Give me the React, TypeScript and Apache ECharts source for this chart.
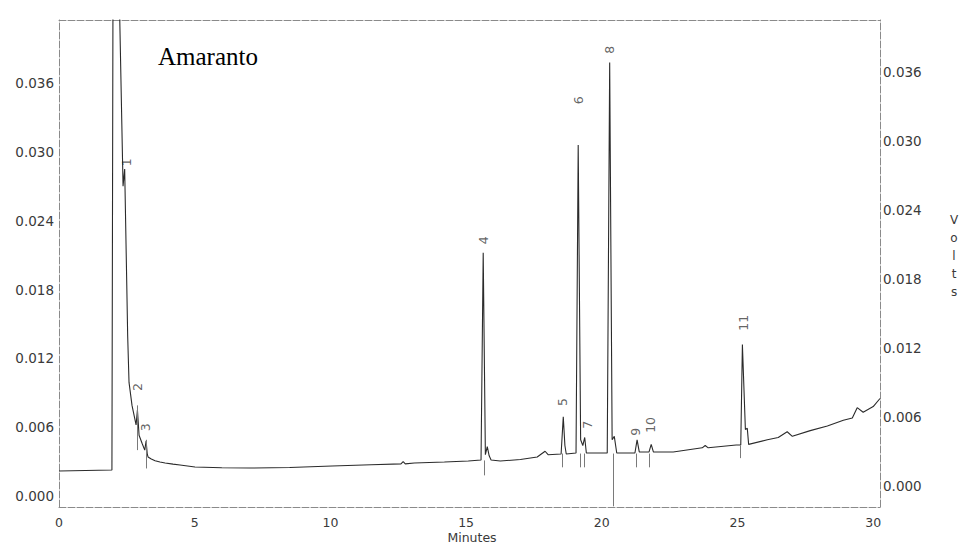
import React, { useEffect, useRef } from "react";
import * as echarts from "echarts";

// Chromatogram trace (minutes, volts)
const traceMinutes = [
  0, 1.95, 1.99, 2.21, 2.36, 2.42, 2.5, 2.53, 2.58, 2.69, 2.84, 2.89, 2.95, 3.06, 3.16, 3.21, 3.25,
  3.28, 3.4, 3.54, 3.72, 3.91, 4.2, 4.46, 5.01, 6.0, 7.04, 8.5, 10.06, 11.5, 12.6, 12.68, 12.76,
  13.09, 14.2, 15.08, 15.55, 15.63, 15.71, 15.78, 15.85, 15.92, 16.26, 17.0, 17.62, 17.91, 18.02,
  18.5, 18.58, 18.64, 18.69, 19.05, 19.13, 19.22, 19.3, 19.37, 19.43, 20.2, 20.29, 20.38, 20.46,
  20.55, 21.22, 21.3, 21.38, 21.74, 21.82, 21.9, 22.63, 23.7, 23.81, 23.92, 24.95, 25.12, 25.18,
  25.29, 25.36, 25.41, 26.1, 26.5, 26.83, 27.02, 27.68, 28.31, 28.9, 29.23, 29.41, 29.63, 30.0,
  30.25,
];
const traceVolts = [
  0.00218, 0.00227, 0.045, 0.045, 0.027, 0.0285, 0.018, 0.014, 0.0099, 0.0079, 0.0062, 0.0075,
  0.0053, 0.0046, 0.004, 0.0048, 0.0037, 0.0034, 0.00322, 0.00308, 0.00296, 0.00288, 0.00278,
  0.0027, 0.00253, 0.00246, 0.00244, 0.00248, 0.00262, 0.00272, 0.0028, 0.003, 0.0028, 0.00288,
  0.00296, 0.00305, 0.00314, 0.0212, 0.0036, 0.0043, 0.0035, 0.00314, 0.00305, 0.00318, 0.0034,
  0.0039, 0.0036, 0.00366, 0.0069, 0.0044, 0.00366, 0.00375, 0.0306, 0.0049, 0.0044, 0.0051,
  0.00375, 0.00375, 0.0378, 0.0049, 0.0052, 0.00375, 0.00375, 0.0049, 0.00384, 0.00384, 0.0045,
  0.00384, 0.00384, 0.0042, 0.0044, 0.0042, 0.00445, 0.00445, 0.0132, 0.0058, 0.0059, 0.0045,
  0.0049, 0.0051, 0.0056, 0.0052, 0.0057, 0.0061, 0.0066, 0.0068, 0.0077, 0.0073, 0.0078, 0.0085,
];

// Axis tick labels
const minuteTicks = [0, 5, 10, 15, 20, 25, 30];
const voltTicks = [0, 0.006, 0.012, 0.018, 0.024, 0.03, 0.036];

// Peak labels
const peakNames = ["1", "2", "3", "4", "5", "6", "7", "8", "9", "10", "11"];
const peakLabelMinutes = [2.47, 2.88, 3.17, 15.63, 18.54, 19.13, 19.46, 20.27, 21.23, 21.78, 25.21];
const peakLabelVolts = [0.0291, 0.0095, 0.006, 0.0223, 0.0082, 0.0345, 0.0062, 0.0389, 0.0056, 0.0062, 0.0151];

// Integrator event marks
const markMinutes = [2.88, 3.21, 15.66, 18.54, 19.2, 19.35, 20.42, 21.27, 21.75, 25.1];
const markTopVolts = [0.0079, 0.0049, 0.0031, 0.0037, 0.0037, 0.0037, 0.0037, 0.0037, 0.0037, 0.0044];
const markBottomVolts = [0.004, 0.0024, 0.0018, 0.0025, 0.0025, 0.0025, -0.0009, 0.0025, 0.0025, 0.0033];

const frameLine = { show: true, onZero: false, lineStyle: { color: "#8a8a8a", width: 1, type: [7, 2] as any } };
const labelFont = { fontFamily: "DejaVu Sans", color: "#3a3a3a" };

export default function App() {
  const ref = useRef<HTMLDivElement>(null);
  useEffect(() => {
    if (!ref.current) return;
    const chart = echarts.init(ref.current, null, { renderer: "svg" });
    const trace = traceMinutes.map((t, i) => [t, traceVolts[i]]);
    chart.setOption({
      animation: false,
      backgroundColor: "#ffffff",
      grid: { left: 59, right: 79, top: 20, bottom: 36, containLabel: false, outerBoundsMode: "none" },
      xAxis: [
        {
          type: "value",
          min: 0,
          max: 30.25,
          position: "bottom",
          axisLine: frameLine,
          axisTick: { show: false },
          splitLine: { show: false },
          axisLabel: {
            customValues: minuteTicks,
            fontSize: 12.5,
            margin: 9,
            ...labelFont,
          },
        },
        {
          type: "value",
          min: 0,
          max: 30.25,
          position: "top",
          axisLine: frameLine,
          axisTick: { show: false },
          splitLine: { show: false },
          axisLabel: { show: false },
        },
      ],
      yAxis: [
        {
          type: "value",
          min: -0.00096,
          max: 0.0415,
          position: "left",
          axisLine: frameLine,
          axisTick: { show: false },
          splitLine: { show: false },
          axisLabel: {
            customValues: voltTicks,
            formatter: (v: number) => v.toFixed(3),
            fontSize: 13.5,
            margin: 5,
            ...labelFont,
          },
        },
        {
          type: "value",
          min: -0.00183,
          max: 0.04054,
          position: "right",
          axisLine: frameLine,
          axisTick: { show: false },
          splitLine: { show: false },
          axisLabel: {
            customValues: voltTicks,
            formatter: (v: number) => v.toFixed(3),
            fontSize: 13.5,
            margin: 3,
            ...labelFont,
          },
        },
      ],
      series: [
        {
          type: "line",
          data: trace,
          xAxisIndex: 0,
          yAxisIndex: 0,
          showSymbol: false,
          symbol: "none",
          clip: true,
          lineStyle: { color: "#2b2b2b", width: 1.1 },
          markLine: {
            silent: true,
            symbol: ["none", "none"],
            label: { show: false },
            lineStyle: { color: "#7a7a7a", width: 1, type: "solid" },
            data: markMinutes.map((t, i) => [
              { coord: [t, markTopVolts[i]] },
              { coord: [t, markBottomVolts[i]] },
            ]),
          },
        },
        {
          type: "scatter",
          xAxisIndex: 0,
          yAxisIndex: 0,
          symbolSize: 1,
          itemStyle: { color: "rgba(0,0,0,0)" },
          data: peakNames.map((n, i) => ({ name: n, value: [peakLabelMinutes[i], peakLabelVolts[i]] })),
          label: {
            show: true,
            formatter: "{b}",
            position: "inside",
            rotate: 90,
            fontSize: 12.5,
            ...labelFont,
          },
        },
      ],
      graphic: [
        {
          type: "text",
          left: 158,
          top: 44,
          style: { text: "Amaranto", fontFamily: "Liberation Serif", fontSize: 25, fill: "#000" },
        },
        {
          type: "text",
          x: 472,
          y: 537,
          style: {
            text: "Minutes",
            fontFamily: "DejaVu Sans",
            fontSize: 12.5,
            fill: "#3a3a3a",
            align: "center",
            verticalAlign: "middle",
          },
        },
        {
          type: "text",
          x: 954,
          y: 256,
          style: {
            text: "V\no\nl\nt\ns",
            fontFamily: "DejaVu Sans",
            fontSize: 12,
            lineHeight: 18,
            fill: "#3a3a3a",
            align: "center",
            verticalAlign: "middle",
          },
        },
      ],
    });
    return () => chart.dispose();
  }, []);
  return (
    <div
      ref={ref}
      style={{ position: "absolute", left: 0, top: 0, width: 959, height: 543, background: "#fff" }}
    />
  );
}
